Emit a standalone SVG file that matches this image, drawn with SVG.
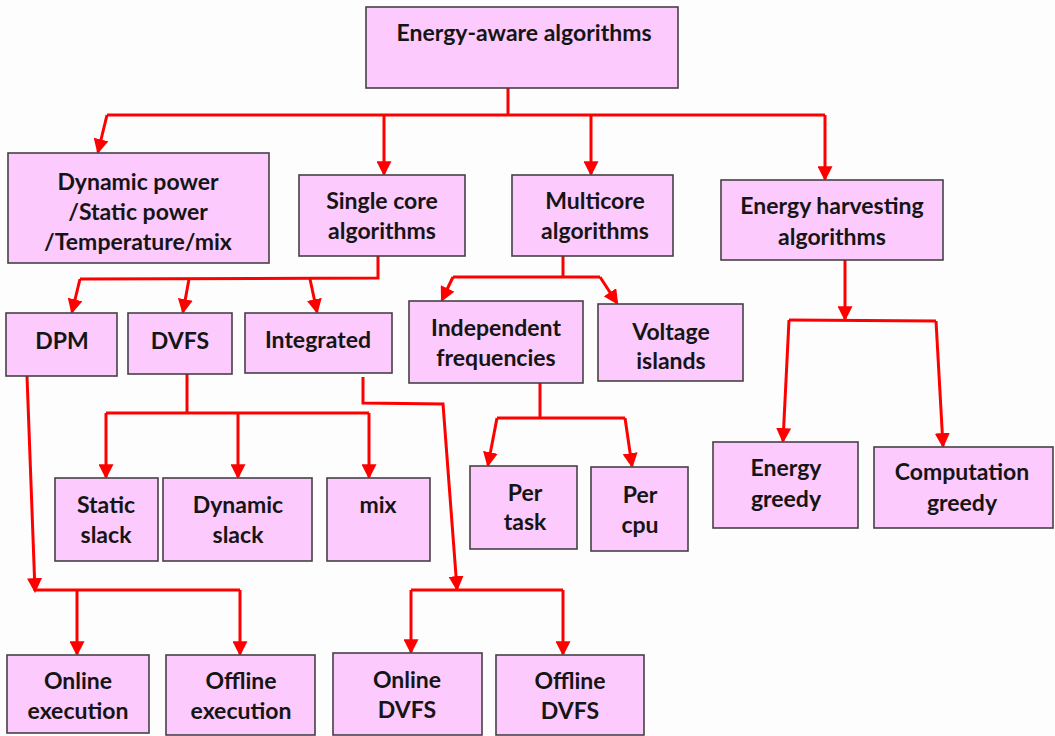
<svg xmlns="http://www.w3.org/2000/svg" width="1055" height="736" viewBox="0 0 1055 736">
  <defs>
    <marker id="arrow" viewBox="0 0 14 14" refX="12" refY="7" markerWidth="15" markerHeight="15" markerUnits="userSpaceOnUse" orient="auto">
      <path d="M0,0 L14,7 L0,14 z" fill="#ff0000"/>
    </marker>
    <style>
      .box { fill: #fccafc; stroke: #454045; stroke-width: 1.6; }
      .lbl { font-family: Lato, "Open Sans", "Liberation Sans", sans-serif; font-weight: bold; font-size: 23px; fill: #151515; text-anchor: middle; }
      .wire { fill: none; stroke: #ff0000; stroke-width: 3; stroke-linejoin: miter; }
      .arr { fill: none; stroke: #ff0000; stroke-width: 3; marker-end: url(#arrow); }
    </style>
  </defs>
  <rect width="1055" height="736" fill="#fdfdfd"/>

  <!-- connectors -->
  <g id="connectors">
    <!-- root -->
    <polyline class="wire" points="508,88 508,115"/>
    <polyline class="wire" points="107,115 825,115"/>
    <line class="arr" x1="107" y1="115" x2="98" y2="152"/>
    <line class="arr" x1="384" y1="115" x2="384" y2="174"/>
    <line class="arr" x1="591" y1="115" x2="591" y2="174"/>
    <line class="arr" x1="825" y1="115" x2="825" y2="179"/>
    <!-- single core -->
    <polyline class="wire" points="378,256 378,278 80,279"/>
    <line class="arr" x1="80" y1="279" x2="72" y2="312"/>
    <line class="arr" x1="189" y1="279" x2="183" y2="312"/>
    <line class="arr" x1="310" y1="279" x2="317" y2="312"/>
    <!-- multicore -->
    <polyline class="wire" points="563,256 563,277"/>
    <polyline class="wire" points="453,277 600,277"/>
    <line class="arr" x1="453" y1="277" x2="442" y2="300"/>
    <line class="arr" x1="600" y1="277" x2="617" y2="303"/>
    <!-- energy harvesting -->
    <line class="arr" x1="845" y1="260" x2="845" y2="319"/>
    <polyline class="wire" points="789,320 936,321"/>
    <line class="arr" x1="789" y1="320" x2="783" y2="441"/>
    <line class="arr" x1="936" y1="321" x2="943" y2="446"/>
    <!-- independent frequencies -->
    <polyline class="wire" points="540,383 540,418"/>
    <polyline class="wire" points="497,418 625,418"/>
    <line class="arr" x1="497" y1="418" x2="488" y2="465"/>
    <line class="arr" x1="625" y1="418" x2="632" y2="466"/>
    <!-- DVFS -->
    <polyline class="wire" points="187,374 187,413"/>
    <polyline class="wire" points="106,413 369,413"/>
    <line class="arr" x1="106" y1="413" x2="106" y2="477"/>
    <line class="arr" x1="238" y1="413" x2="238" y2="477"/>
    <line class="arr" x1="369" y1="413" x2="369" y2="477"/>
    <!-- DPM -->
    <line class="arr" x1="27" y1="376" x2="35" y2="591"/>
    <polyline class="wire" points="35,590 240,590"/>
    <line class="arr" x1="77" y1="590" x2="77" y2="654"/>
    <line class="arr" x1="240" y1="590" x2="240" y2="654"/>
    <!-- integrated -->
    <polyline class="arr" points="363,377 363,403 443,404 457,589"/>
    <polyline class="wire" points="411,590 563,590"/>
    <line class="arr" x1="411" y1="590" x2="411" y2="652"/>
    <line class="arr" x1="563" y1="590" x2="563" y2="654"/>
  </g>

  <g id="root">
    <rect class="box" x="366" y="7" width="312" height="81"/>
    <text class="lbl" x="524" y="41">Energy-aware algorithms</text>
  </g>
  <g id="power">
    <rect class="box" x="8" y="153" width="261" height="110"/>
    <text class="lbl" x="138" y="190">Dynamic power</text>
    <text class="lbl" x="138" y="220">/Static power</text>
    <text class="lbl" x="138" y="250">/Temperature/mix</text>
  </g>
  <g id="single-core">
    <rect class="box" x="299" y="175" width="166" height="81"/>
    <text class="lbl" x="382" y="209">Single core</text>
    <text class="lbl" x="382" y="239">algorithms</text>
  </g>
  <g id="multicore">
    <rect class="box" x="512" y="175" width="161" height="81"/>
    <text class="lbl" x="595" y="209">Multicore</text>
    <text class="lbl" x="595" y="239">algorithms</text>
  </g>
  <g id="harvesting">
    <rect class="box" x="721" y="180" width="222" height="80"/>
    <text class="lbl" x="832" y="214">Energy harvesting</text>
    <text class="lbl" x="832" y="245">algorithms</text>
  </g>
  <g id="dpm">
    <rect class="box" x="6" y="313" width="111" height="63"/>
    <text class="lbl" x="62" y="349">DPM</text>
  </g>
  <g id="dvfs">
    <rect class="box" x="128" y="313" width="104" height="61"/>
    <text class="lbl" x="180" y="349">DVFS</text>
  </g>
  <g id="integrated">
    <rect class="box" x="245" y="313" width="147" height="60"/>
    <text class="lbl" x="318" y="348">Integrated</text>
  </g>
  <g id="independent">
    <rect class="box" x="409" y="301" width="174" height="82"/>
    <text class="lbl" x="496" y="336">Independent</text>
    <text class="lbl" x="496" y="366">frequencies</text>
  </g>
  <g id="voltage">
    <rect class="box" x="598" y="304" width="145" height="77"/>
    <text class="lbl" x="671" y="340">Voltage</text>
    <text class="lbl" x="671" y="369">islands</text>
  </g>
  <g id="static-slack">
    <rect class="box" x="55" y="478" width="103" height="83"/>
    <text class="lbl" x="106" y="513">Static</text>
    <text class="lbl" x="106" y="543">slack</text>
  </g>
  <g id="dynamic-slack">
    <rect class="box" x="163" y="478" width="149" height="83"/>
    <text class="lbl" x="238" y="513">Dynamic</text>
    <text class="lbl" x="238" y="543">slack</text>
  </g>
  <g id="mix">
    <rect class="box" x="327" y="478" width="103" height="83"/>
    <text class="lbl" x="378" y="513">mix</text>
  </g>
  <g id="per-task">
    <rect class="box" x="470" y="466" width="107" height="83"/>
    <text class="lbl" x="525" y="501">Per</text>
    <text class="lbl" x="525" y="530">task</text>
  </g>
  <g id="per-cpu">
    <rect class="box" x="591" y="467" width="97" height="84"/>
    <text class="lbl" x="640" y="503">Per</text>
    <text class="lbl" x="640" y="533">cpu</text>
  </g>
  <g id="energy-greedy">
    <rect class="box" x="713" y="442" width="145" height="86"/>
    <text class="lbl" x="786" y="476">Energy</text>
    <text class="lbl" x="786" y="507">greedy</text>
  </g>
  <g id="computation-greedy">
    <rect class="box" x="874" y="447" width="179" height="81"/>
    <text class="lbl" x="962" y="480">Computation</text>
    <text class="lbl" x="962" y="511">greedy</text>
  </g>
  <g id="online-execution">
    <rect class="box" x="7" y="655" width="142" height="78"/>
    <text class="lbl" x="78" y="689">Online</text>
    <text class="lbl" x="78" y="719">execution</text>
  </g>
  <g id="offline-execution">
    <rect class="box" x="166" y="655" width="149" height="80"/>
    <text class="lbl" x="241" y="689">Offline</text>
    <text class="lbl" x="241" y="719">execution</text>
  </g>
  <g id="online-dvfs">
    <rect class="box" x="333" y="653" width="149" height="82"/>
    <text class="lbl" x="407" y="688">Online</text>
    <text class="lbl" x="407" y="718">DVFS</text>
  </g>
  <g id="offline-dvfs">
    <rect class="box" x="496" y="655" width="148" height="80"/>
    <text class="lbl" x="570" y="689">Offline</text>
    <text class="lbl" x="570" y="719">DVFS</text>
  </g>
</svg>
